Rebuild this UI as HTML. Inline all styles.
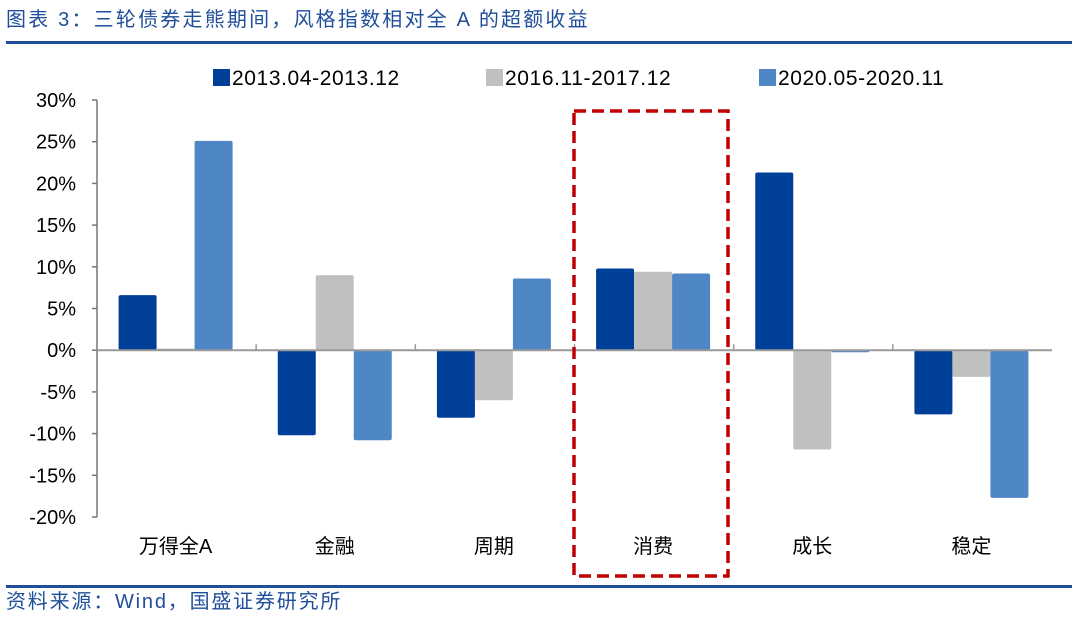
<!DOCTYPE html>
<html><head><meta charset="utf-8"><style>
body{margin:0;background:#fff;width:1080px;height:616px;overflow:hidden;font-family:"Liberation Sans","Noto Sans CJK SC",sans-serif;}
</style></head><body>
<svg id="c" width="1080" height="616" xmlns="http://www.w3.org/2000/svg">
<text x="6" y="26" font-size="20" letter-spacing="2.2" fill="#1f4e9a" font-family="Liberation Sans,Noto Sans CJK SC,sans-serif">图表 3：三轮债券走熊期间，风格指数相对全 A 的超额收益</text>
<rect x="6" y="41" width="1066" height="3" fill="#1f4e9a"/>
<rect x="6" y="585" width="1066" height="3" fill="#1f4e9a"/>
<text x="6" y="608" font-size="20" letter-spacing="1.8" fill="#1f4e9a" font-family="Liberation Sans,Noto Sans CJK SC,sans-serif">资料来源：Wind，国盛证券研究所</text>
<g id="plot"></g>
</svg>
<script>
const categories=["万得全A","金融","周期","消费","成长","稳定"];
const seriesNames=["2013.04-2013.12","2016.11-2017.12","2020.05-2020.11"];
const s1=[6.6,-10.2,-8.1,9.8,21.3,-7.7];
const s2=[0.2,9.0,-6.0,9.4,-11.9,-3.2];
const s3=[25.1,-10.8,8.6,9.2,-0.2,-17.7];
const yTicks=[30,25,20,15,10,5,0,-5,-10,-15,-20];
const colors=["#003f98","#c0c0c0","#4f86c6"];
const NS="http://www.w3.org/2000/svg";
const g=document.getElementById('plot');
const x0=97,x1=1052,yTop=100,yBot=517,vMax=30,vMin=-20;
const y=v=>yTop+(vMax-v)/(vMax-vMin)*(yBot-yTop);
const cw=(x1-x0)/categories.length;
function mk(t,a){const e=document.createElementNS(NS,t);for(const k in a)e.setAttribute(k,a[k]);g.appendChild(e);return e;}
let ax=mk('line',{x1:x0,y1:yTop,x2:x0,y2:yBot,stroke:'#999','stroke-width':2});


yTicks.forEach(v=>{
 const t=mk('line',{x1:x0-5,y1:y(v),x2:x0,y2:y(v),stroke:'#777','stroke-width':1.5});
 
 
 const l=mk('text',{x:x0-21,y:y(v)+7,'font-size':20,'text-anchor':'end',fill:'#000'});
 l.textContent=v+'%';
 
 
});
const bw=38;
const all=[s1,s2,s3];
categories.forEach((c,i)=>{
 const cx=x0+cw*(i+0.5)-1;
 all.forEach((s,j)=>{
  const v=s[i];
  const bx=cx-1.5*bw+j*bw;
  const r=mk('rect',{x:bx,y:Math.min(y(v),y(0)),width:bw,height:Math.max(2,Math.abs(y(v)-y(0))),fill:colors[j],rx:2});
  
  
 });
 const l=mk('text',{x:cx,y:553,'font-size':20,'text-anchor':'middle',fill:'#000'});
 l.textContent=c;
 
 
 if(i>0){const t=mk('line',{x1:x0+cw*i,y1:y(0)-6,x2:x0+cw*i,y2:y(0),stroke:'#999','stroke-width':1.5});
 
 }
});
const zl=mk('line',{x1:x0,y1:y(0),x2:x1,y2:y(0),stroke:'#999','stroke-width':2});


const lx=[213,486,759];
seriesNames.forEach((n,j)=>{
 const r=mk('rect',{x:lx[j],y:69,width:17,height:17,fill:colors[j]});
 
 
 const t=mk('text',{x:lx[j]+19,y:85,'font-size':21,'letter-spacing':'0.6',fill:'#000'});
 t.textContent=n;
 
 
});
const hb=mk('rect',{x:574,y:111,width:154,height:465,fill:'none',stroke:'#c00000','stroke-width':3.5,'stroke-dasharray':'12 6'});


</script>
</body></html>
